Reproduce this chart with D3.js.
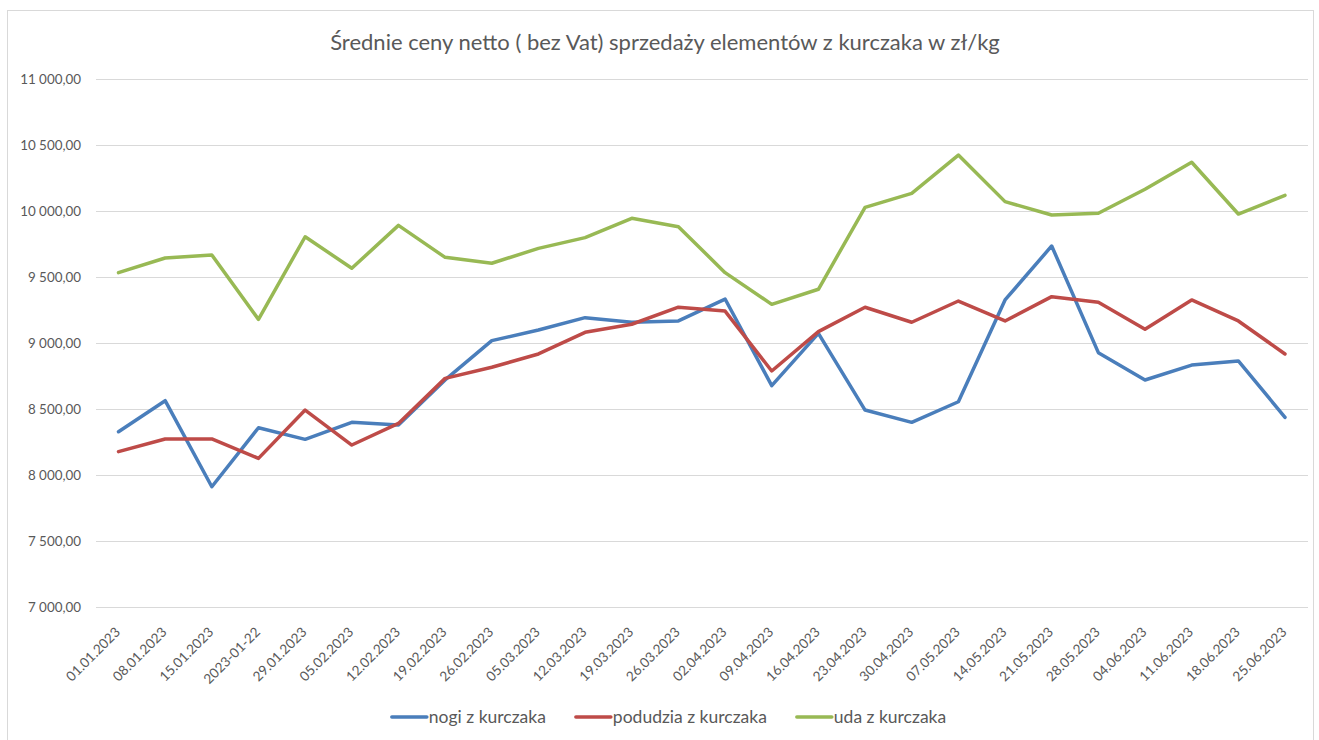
<!DOCTYPE html>
<html>
<head>
<meta charset="utf-8">
<script src="https://cdn.jsdelivr.net/npm/d3@7"></script>
<style>
  body { margin: 0; background: #fff; }
  svg { font-family: Lato, "Open Sans", sans-serif; }
</style>
</head>
<body>
<svg id="chart" width="1319" height="740"></svg>
<script>
// dates on the category axis
const categories = [
    "01.01.2023", "08.01.2023", "15.01.2023", "2023-01-22", "29.01.2023", "05.02.2023",
    "12.02.2023", "19.02.2023", "26.02.2023", "05.03.2023", "12.03.2023", "19.03.2023",
    "26.03.2023", "02.04.2023", "09.04.2023", "16.04.2023", "23.04.2023", "30.04.2023",
    "07.05.2023", "14.05.2023", "21.05.2023", "28.05.2023", "04.06.2023", "11.06.2023",
    "18.06.2023", "25.06.2023"
];

const nogi = [
    8328, 8563, 7911, 8358, 8270, 8399, 8379, 8720, 9018, 9098, 9192, 9157, 9167,
    9333, 8677, 9073, 8492, 8399, 8555, 9326, 9735, 8927, 8720, 8833, 8864, 8437
];

const podudzia = [
    8177, 8273, 8273, 8126, 8492, 8227, 8391, 8732, 8816, 8917, 9081, 9142, 9271,
    9242, 8788, 9086, 9271, 9157, 9318, 9167, 9351, 9308, 9104, 9326, 9167, 8917
];

const uda = [
    9533, 9644, 9667, 9179, 9805, 9566, 9891, 9649, 9604, 9717, 9798, 9945, 9881,
    9533, 9293, 9407, 10028, 10134, 10424, 10071, 9970, 9983, 10165, 10369, 9977, 10119
];

const yTicks = [7000, 7500, 8000, 8500, 9000, 9500, 10000, 10500, 11000];

const seriesNames = ["nogi z kurczaka", "podudzia z kurczaka", "uda z kurczaka"];
const seriesColors = ["#4a7ebb", "#be4b48", "#98b954"];

const svg = d3.select("#chart");
const textColor = "#595959";

// chart frame
svg.append("rect")
    .attr("x", 7.5).attr("y", 10.5)
    .attr("width", 1306).attr("height", 740)
    .attr("fill", "none")
    .attr("stroke", "#d9d9d9");

const plotLeft = 96, plotRight = 1308;

const x = d3.scalePoint()
    .domain(categories)
    .range([118.5, 1285]);

const y = d3.scaleLinear()
    .domain([7000, 11000])
    .range([607, 79]);

// number format like "11 000,00"
const fmt = v => d3.format(",.2f")(v).replace(/,/g, " ").replace(".", ",");

// gridlines
svg.append("g")
    .selectAll("line")
    .data(yTicks)
    .join("line")
    .attr("x1", plotLeft).attr("x2", plotRight)
    .attr("y1", d => Math.round(y(d)) + 0.5)
    .attr("y2", d => Math.round(y(d)) + 0.5)
    .attr("stroke", "#d9d9d9")
    .attr("stroke-width", 1);

// y axis labels
const yAxis = svg.append("g")
    .attr("transform", `translate(${plotLeft},0)`)
    .call(d3.axisLeft(y).tickValues(yTicks).tickFormat(fmt).tickSize(0).tickPadding(15));
yAxis.select(".domain").remove();
yAxis.selectAll("text")
    .attr("fill", textColor)
    .style("font-size", "13.4px")
    .style("font-family", "Lato, 'Open Sans', sans-serif");

// x axis labels, rotated
const xAxis = svg.append("g")
    .attr("transform", `translate(0,${y(7000)})`)
    .call(d3.axisBottom(x).tickSize(0).tickPadding(0));
xAxis.select(".domain").remove();
xAxis.selectAll("text")
    .attr("fill", textColor)
    .style("font-size", "13.6px")
    .style("font-family", "Lato, 'Open Sans', sans-serif")
    .attr("text-anchor", "end")
    .attr("dy", "0")
    .attr("transform", "translate(2,26) rotate(-45)");

// title
svg.append("text")
    .attr("x", 665)
    .attr("y", 50)
    .attr("text-anchor", "middle")
    .attr("fill", textColor)
    .style("font-size", "22px")
    .text("Średnie ceny netto ( bez Vat) sprzedaży elementów z kurczaka w zł/kg");

// lines
const line = d3.line()
    .x((d, i) => x(categories[i]))
    .y(d => y(d));

[nogi, podudzia, uda].forEach((values, i) => {
    svg.append("path")
        .datum(values)
        .attr("fill", "none")
        .attr("stroke", seriesColors[i])
        .attr("stroke-width", 3.5)
        .attr("stroke-linejoin", "round")
        .attr("stroke-linecap", "round")
        .attr("d", line);
});

// legend, centred under the chart
const legend = svg.append("g");
let lx = 0;
seriesNames.forEach((name, i) => {
    const g = legend.append("g").attr("transform", `translate(${lx},0)`);
    g.append("line")
        .attr("x1", 0).attr("x2", 35)
        .attr("y1", 0).attr("y2", 0)
        .attr("stroke", seriesColors[i])
        .attr("stroke-width", 3.5)
        .attr("stroke-linecap", "round");
    const t = g.append("text")
        .attr("x", 37)
        .attr("y", 6)
        .attr("fill", textColor)
        .style("font-size", "17.5px")
        .text(name);
    lx += 37 + t.node().getComputedTextLength() + 30;
});
const legendWidth = lx - 30;
legend.attr("transform", `translate(${669 - legendWidth / 2},717)`);
</script>
</body>
</html>
